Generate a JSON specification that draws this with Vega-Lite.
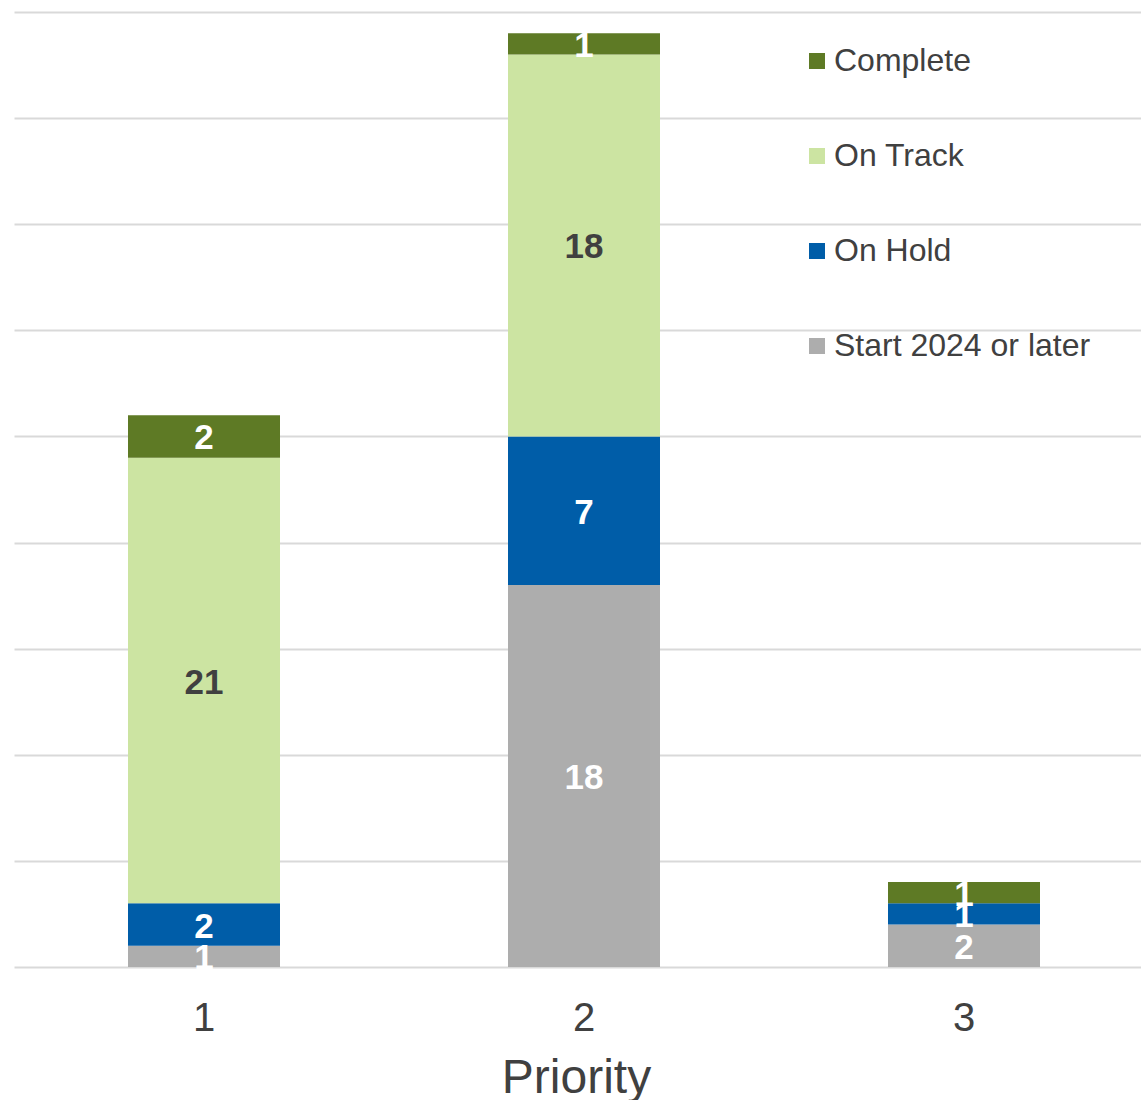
{
  "$schema": "https://vega.github.io/schema/vega-lite/v6.json",
  "width": 1140,
  "height": 955,
  "autosize": {"type": "none"},
  "padding": {"left": 14, "top": 12, "right": 0, "bottom": 133},
  "background": "white",
  "config": {
    "font": "Liberation Sans",
    "view": {"stroke": null}
  },
  "data": {
    "values": [
      {"priority": "1", "status": "Start 2024 or later", "ord": 1, "count": 1},
      {"priority": "1", "status": "On Hold", "ord": 2, "count": 2},
      {"priority": "1", "status": "On Track", "ord": 3, "count": 21},
      {"priority": "1", "status": "Complete", "ord": 4, "count": 2},
      {"priority": "2", "status": "Start 2024 or later", "ord": 1, "count": 18},
      {"priority": "2", "status": "On Hold", "ord": 2, "count": 7},
      {"priority": "2", "status": "On Track", "ord": 3, "count": 18},
      {"priority": "2", "status": "Complete", "ord": 4, "count": 1},
      {"priority": "3", "status": "Start 2024 or later", "ord": 1, "count": 2},
      {"priority": "3", "status": "On Hold", "ord": 2, "count": 1},
      {"priority": "3", "status": "On Track", "ord": 3, "count": 0},
      {"priority": "3", "status": "Complete", "ord": 4, "count": 1}
    ]
  },
  "transform": [
    {"stack": "count", "groupby": ["priority"], "sort": [{"field": "ord", "order": "ascending"}], "as": ["y0", "y1"]},
    {"calculate": "(datum.y0 + datum.y1) / 2", "as": "mid"}
  ],
  "encoding": {
    "x": {
      "field": "priority",
      "type": "nominal",
      "scale": {"paddingInner": 0.6, "paddingOuter": 0.3},
      "axis": {
        "title": "Priority",
        "labelAngle": 0,
        "labelFontSize": 40,
        "labelColor": "#404040",
        "labelPadding": 31,
        "titleFontSize": 48,
        "titleFontWeight": "normal",
        "titleColor": "#404040",
        "titlePadding": 16,
        "titleX": 562,
        "titleAlign": "center",
        "ticks": false,
        "domain": false,
        "grid": false
      }
    }
  },
  "layer": [
    {
      "mark": {"type": "bar"},
      "encoding": {
        "y": {
          "field": "y0",
          "type": "quantitative",
          "scale": {"domain": [0, 45]},
          "axis": {
            "title": null,
            "labels": false,
            "ticks": false,
            "domain": false,
            "grid": true,
            "gridColor": "#D9D9D9",
            "gridWidth": 2,
            "values": [0, 5, 10, 15, 20, 25, 30, 35, 40, 45]
          }
        },
        "y2": {"field": "y1"},
        "color": {
          "field": "status",
          "type": "nominal",
          "scale": {
            "domain": ["Complete", "On Track", "On Hold", "Start 2024 or later"],
            "range": ["#5E7A25", "#CCE4A2", "#005DA8", "#ADADAD"]
          },
          "legend": {
            "title": null,
            "orient": "none",
            "legendX": 787,
            "legendY": 33,
            "symbolType": "square",
            "symbolSize": 256,
            "symbolStrokeWidth": 0,
            "labelFontSize": 32,
            "labelColor": "#404040",
            "labelOffset": 1,
            "rowPadding": 63,
            "labelLimit": 400
          }
        }
      }
    },
    {
      "transform": [{"filter": "datum.count > 0"}],
      "mark": {"type": "text", "fontSize": 35, "fontWeight": "bold", "baseline": "middle", "dy": 2},
      "encoding": {
        "y": {"field": "mid", "type": "quantitative"},
        "text": {"field": "count", "type": "quantitative"},
        "color": {
          "condition": {"test": "datum.status === 'On Track'", "value": "#404040"},
          "value": "white"
        }
      }
    }
  ]
}
